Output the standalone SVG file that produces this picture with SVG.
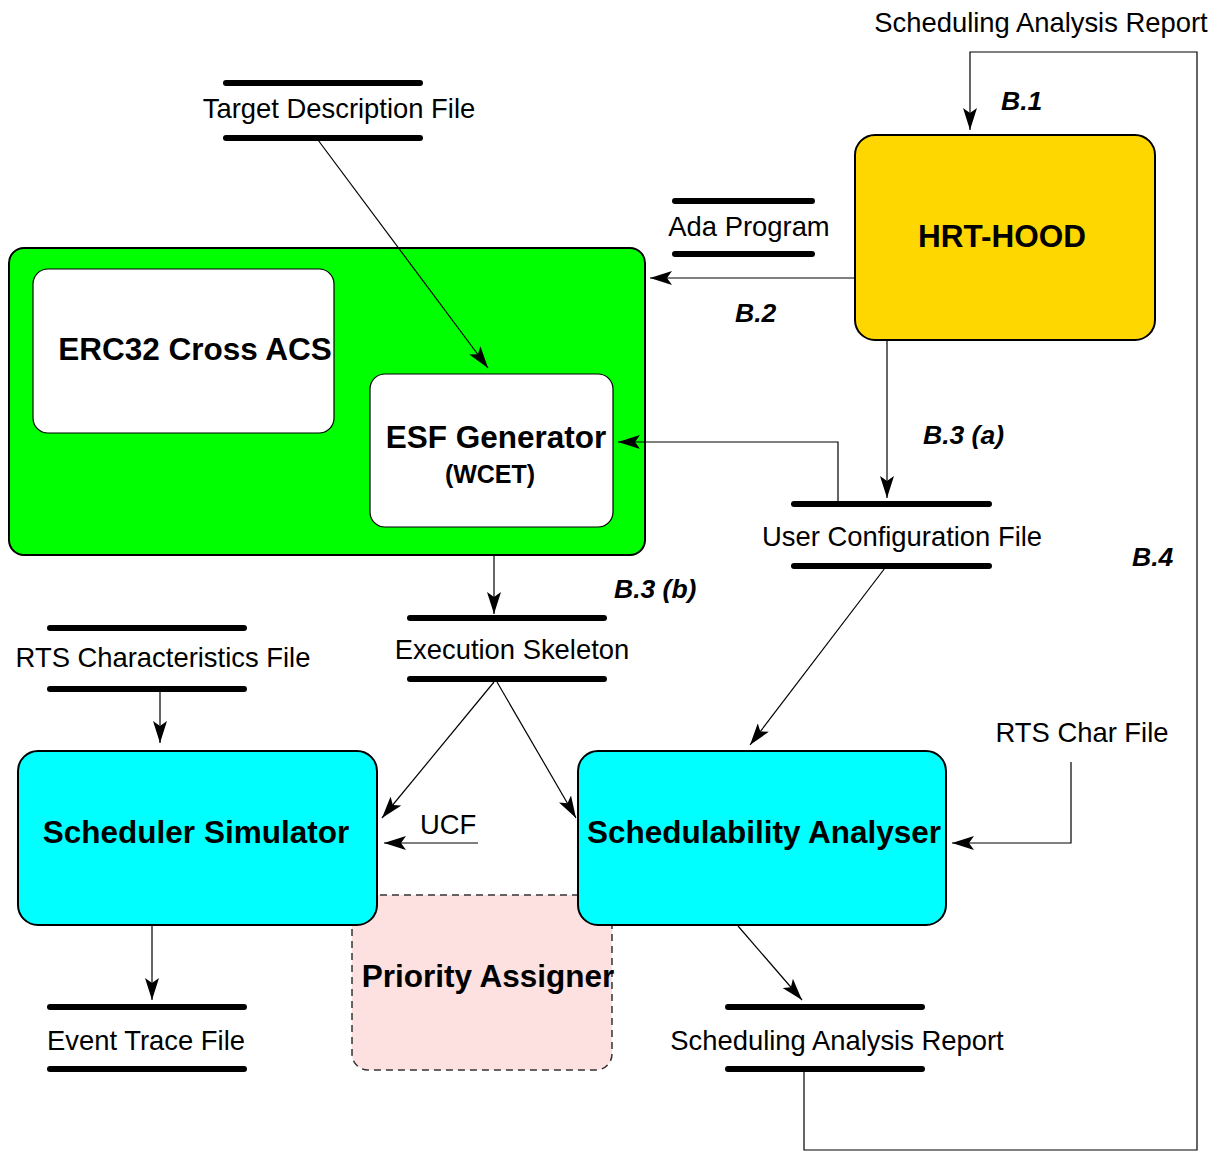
<svg xmlns="http://www.w3.org/2000/svg" width="1222" height="1151" viewBox="0 0 1222 1151">
<style>
text{font-family:"Liberation Sans",Arial,sans-serif;fill:#000}
.t{font-size:27.4px}
.c{text-anchor:middle}
.b{font-weight:bold;font-size:31.5px}
.lab{font-weight:bold;font-style:italic;font-size:26.5px}
.bar{stroke:#000;stroke-width:6;stroke-linecap:round}
.ln{stroke:#000;stroke-width:1.2;fill:none}
.box{stroke:#000;stroke-width:2}
</style>
<defs>
<marker id="ah" markerUnits="userSpaceOnUse" markerWidth="24" markerHeight="14" refX="22" refY="7" orient="auto">
<path d="M0,0 L22,7 L0,14 L5,7 z" fill="#000"/>
</marker>
</defs>
<rect width="1222" height="1151" fill="#fff"/>

<g id="priority-assigner">
<rect x="352" y="895" width="260" height="175" rx="16" fill="#fde0e0" stroke="#333" stroke-width="1.5" stroke-dasharray="7,5"/>
</g>

<g id="erc32-cross-acs">
<rect class="box" x="9" y="248" width="636" height="307" rx="15" fill="#00ff00"/>
<rect x="33" y="269" width="301" height="164" rx="15" fill="#fff" stroke="#000" stroke-width="1.2"/>
<text class="b c" x="195" y="360">ERC32 Cross ACS</text>
</g>
<g id="esf-generator">
<rect x="370" y="374" width="243" height="153" rx="15" fill="#fff" stroke="#000" stroke-width="1.2"/>
<text class="b c" x="496" y="448">ESF Generator</text>
<text class="c" x="490" y="483" style="font-weight:bold;font-size:25px">(WCET)</text>
</g>

<g id="hrt-hood">
<rect class="box" x="855" y="135" width="300" height="205" rx="20" fill="#ffd700"/>
<text class="b c" x="1002" y="247">HRT-HOOD</text>
</g>

<g id="scheduler-simulator">
<rect class="box" x="18" y="751" width="359" height="174" rx="20" fill="#00ffff"/>
<text class="b c" x="196" y="843">Scheduler Simulator</text>
</g>
<g id="schedulability-analyser">
<rect class="box" x="578" y="751" width="368" height="174" rx="20" fill="#00ffff"/>
<text class="b c" x="764" y="843">Schedulability Analyser</text>
</g>
<g id="priority-assigner-label">
<text class="b c" x="488" y="987">Priority Assigner</text>
</g>

<g id="target-description-file">
<line class="bar" x1="226" y1="83" x2="420" y2="83"/>
<line class="bar" x1="226" y1="138" x2="420" y2="138"/>
<text class="t c" x="339" y="118">Target Description File</text>
</g>
<g id="ada-program">
<line class="bar" x1="675" y1="201" x2="812" y2="201"/>
<line class="bar" x1="675" y1="254" x2="812" y2="254"/>
<text class="t c" x="749" y="236">Ada Program</text>
</g>
<g id="user-configuration-file">
<line class="bar" x1="794" y1="504" x2="989" y2="504"/>
<line class="bar" x1="794" y1="566" x2="989" y2="566"/>
<text class="t c" x="902" y="546">User Configuration File</text>
</g>
<g id="execution-skeleton">
<line class="bar" x1="410" y1="618" x2="604" y2="618"/>
<line class="bar" x1="410" y1="679" x2="604" y2="679"/>
<text class="t c" x="512" y="659">Execution Skeleton</text>
</g>
<g id="rts-characteristics-file">
<line class="bar" x1="50" y1="628" x2="244" y2="628"/>
<line class="bar" x1="50" y1="689" x2="244" y2="689"/>
<text class="t c" x="163" y="667">RTS Characteristics File</text>
</g>
<g id="event-trace-file">
<line class="bar" x1="50" y1="1007" x2="244" y2="1007"/>
<line class="bar" x1="50" y1="1069" x2="244" y2="1069"/>
<text class="t c" x="146" y="1050">Event Trace File</text>
</g>
<g id="scheduling-analysis-report">
<line class="bar" x1="728" y1="1007" x2="922" y2="1007"/>
<line class="bar" x1="728" y1="1069" x2="922" y2="1069"/>
<text class="t c" x="837" y="1050">Scheduling Analysis Report</text>
</g>
<g id="rts-char-file">
<text class="t c" x="1082" y="742">RTS Char File</text>
</g>
<g id="top-report-label">
<text class="t c" x="1041" y="32">Scheduling Analysis Report</text>
</g>

<g id="connectors">
<line class="ln" x1="318" y1="140" x2="488" y2="368" marker-end="url(#ah)"/>
<line class="ln" x1="855" y1="278" x2="650" y2="278" marker-end="url(#ah)"/>
<line class="ln" x1="887" y1="340" x2="887" y2="498" marker-end="url(#ah)"/>
<polyline class="ln" points="838,502 838,442 618,442" marker-end="url(#ah)"/>
<line class="ln" x1="885" y1="568" x2="750" y2="745" marker-end="url(#ah)"/>
<line class="ln" x1="494" y1="555" x2="494" y2="614" marker-end="url(#ah)"/>
<line class="ln" x1="160" y1="689" x2="160" y2="743" marker-end="url(#ah)"/>
<line class="ln" x1="494" y1="682" x2="382" y2="818" marker-end="url(#ah)"/>
<line class="ln" x1="497" y1="682" x2="576" y2="818" marker-end="url(#ah)"/>
<line class="ln" x1="478" y1="843" x2="384" y2="843" marker-end="url(#ah)"/>
<polyline class="ln" points="1071,762 1071,843 952,843" marker-end="url(#ah)"/>
<line class="ln" x1="738" y1="926" x2="802" y2="1000" marker-end="url(#ah)"/>
<line class="ln" x1="152" y1="925" x2="152" y2="1000" marker-end="url(#ah)"/>
<polyline class="ln" points="804,1071 804,1150 1197,1150 1197,52 970,52 970,130" stroke="#444" marker-end="url(#ah)"/>
<text class="lab" x="1001" y="110">B.1</text>
<text class="lab" x="735" y="322">B.2</text>
<text class="lab" x="923" y="444">B.3 (a)</text>
<text class="lab" x="1132" y="566">B.4</text>
<text class="lab" x="614" y="598">B.3 (b)</text>
<text class="t" x="420" y="834">UCF</text>
</g>
</svg>
